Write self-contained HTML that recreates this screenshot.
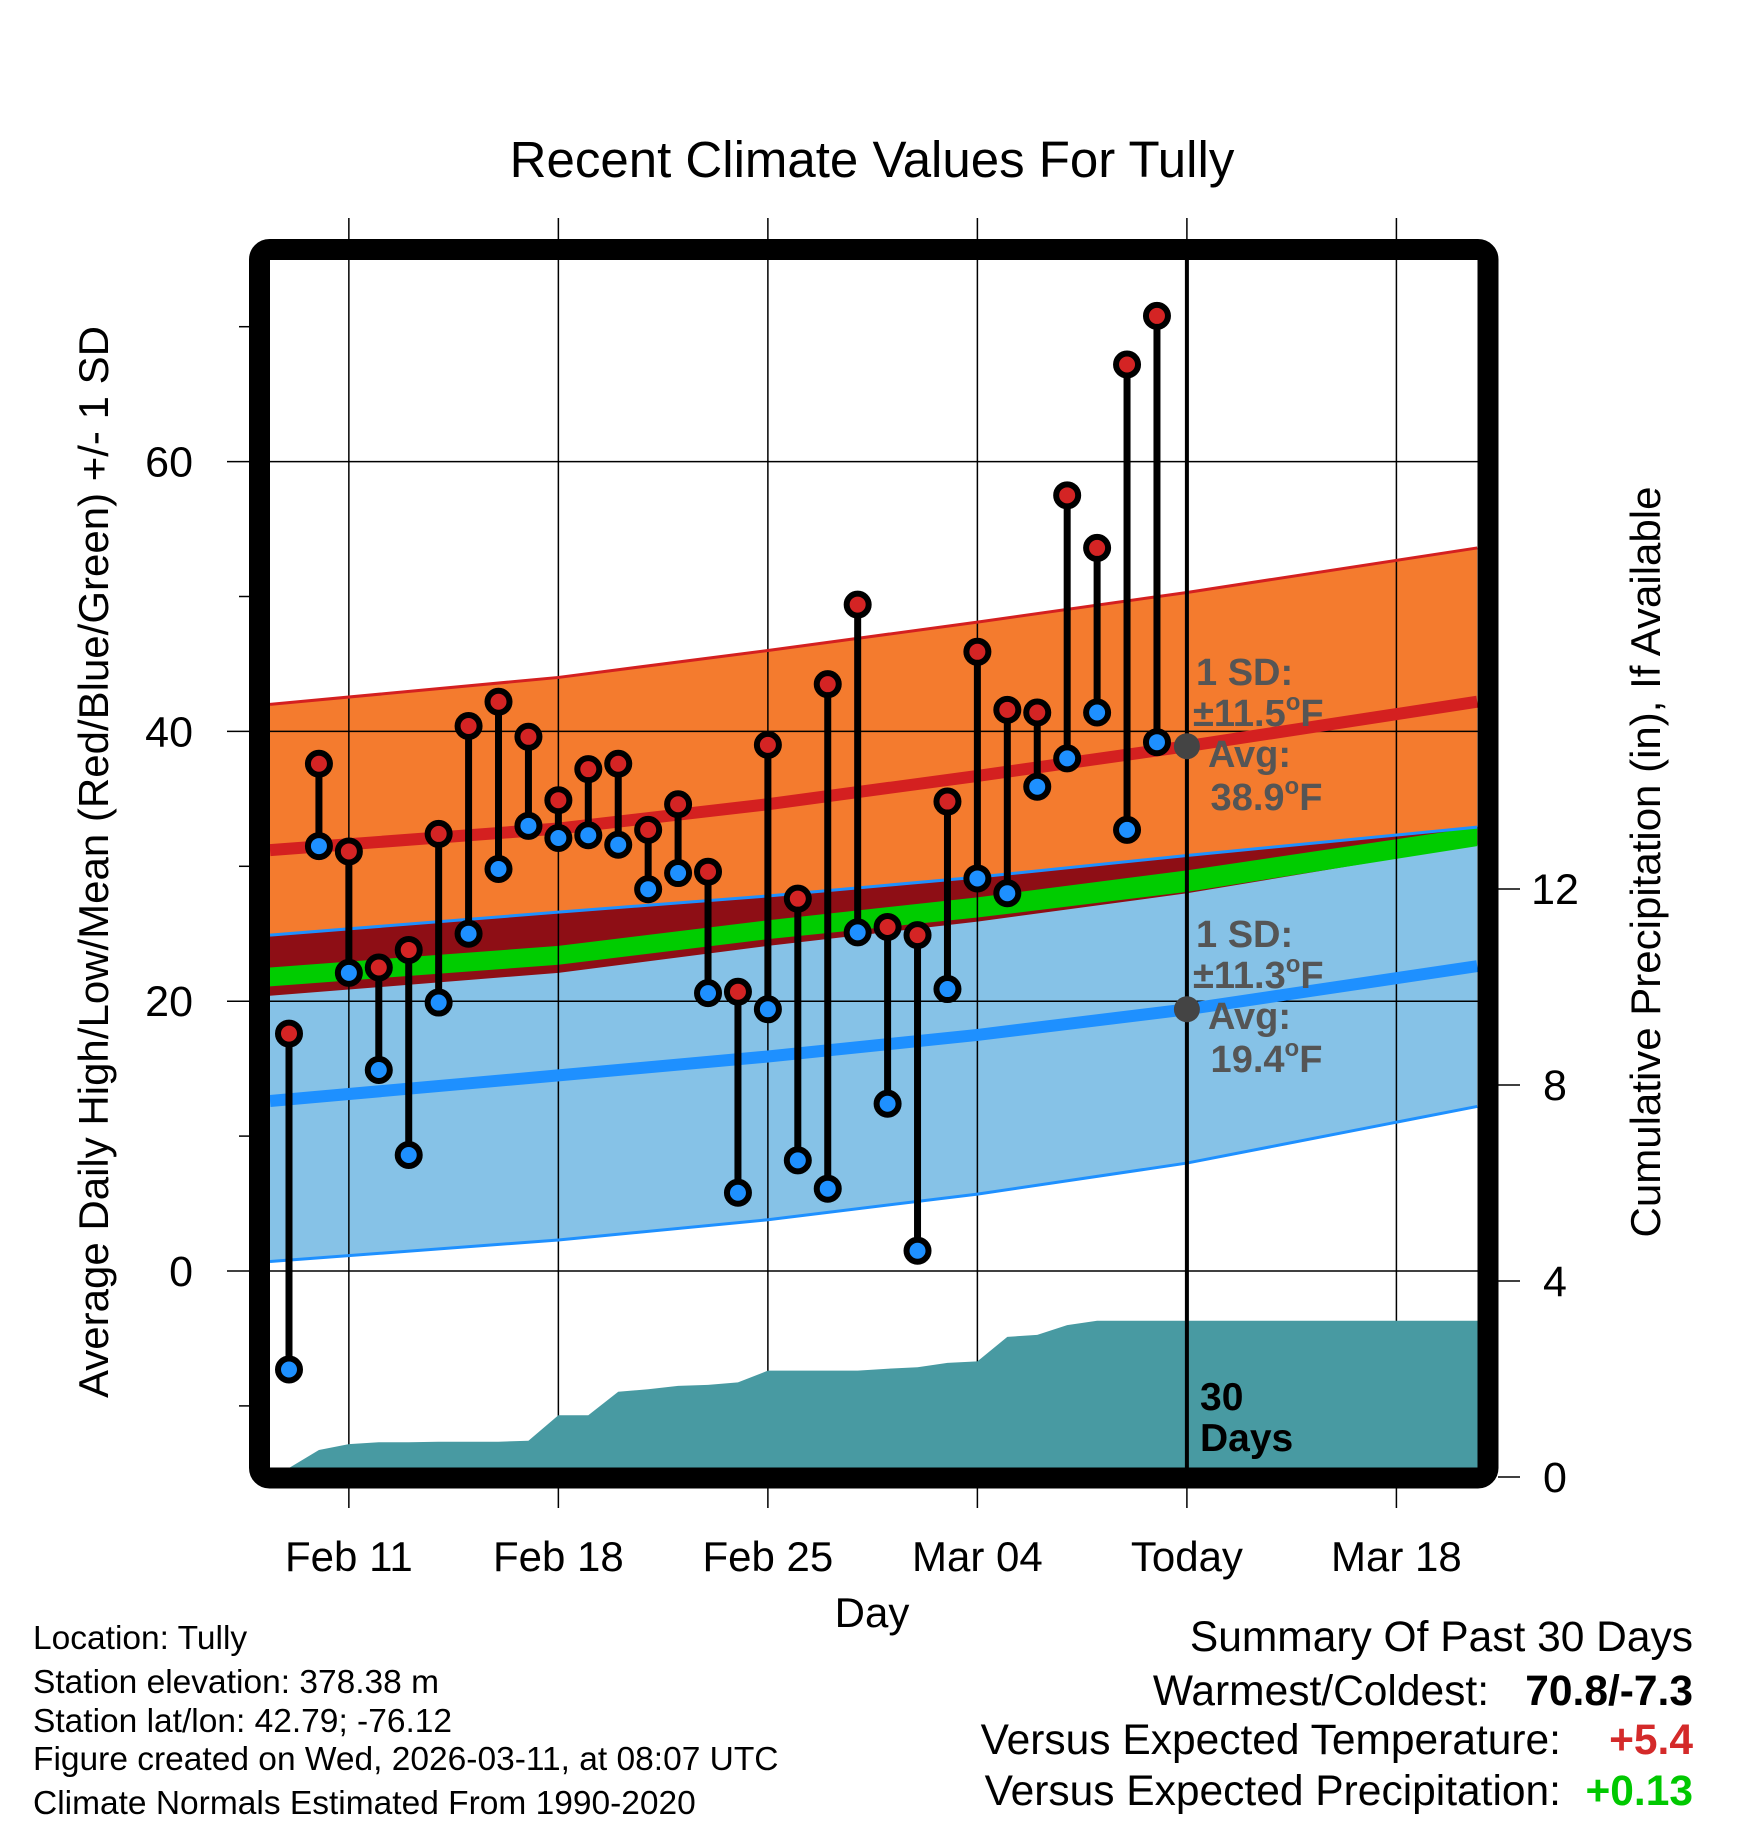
<!DOCTYPE html>
<html><head><meta charset="utf-8"><style>
html,body{margin:0;padding:0;background:#fff;}
svg{display:block;font-family:"Liberation Sans",sans-serif;}
</style></head><body>
<svg id="chart" width="1748" height="1828" viewBox="0 0 1748 1828" xmlns="http://www.w3.org/2000/svg">
<text x="872" y="177" font-size="51" text-anchor="middle">Recent Climate Values For Tully</text>
<g id="bands"></g>
<g id="grid"></g>
<g id="precip"></g>
<g id="lines"></g>
<g id="marks"></g>
<g id="annot"></g>
<rect x="259.5" y="249.5" width="1228.5" height="1228.5" rx="10" fill="none" stroke="#000" stroke-width="21"/>
<g id="axes"></g>
<text x="872" y="1627" font-size="42" text-anchor="middle">Day</text>
<text transform="translate(108,862) rotate(-90)" font-size="42" text-anchor="middle">Average Daily High/Low/Mean (Red/Blue/Green) +/- 1 SD</text>
<text transform="translate(1660,862) rotate(-90)" font-size="42" text-anchor="middle">Cumulative Precipitation (in), If Available</text>
<g font-size="33.5">
<text x="33" y="1649">Location: Tully</text>
<text x="33" y="1693">Station elevation: 378.38 m</text>
<text x="33" y="1732">Station lat/lon: 42.79; -76.12</text>
<text x="33" y="1770">Figure created on Wed, 2026-03-11, at 08:07 UTC</text>
<text x="33" y="1814">Climate Normals Estimated From 1990-2020</text>
</g>
<g font-size="42.5">
<text x="1693" y="1651" text-anchor="end">Summary Of Past 30 Days</text>
<text x="1489" y="1705" text-anchor="end">Warmest/Coldest:</text>
<text x="1693" y="1705" text-anchor="end" font-weight="bold">70.8/-7.3</text>
<text x="1561" y="1754" text-anchor="end">Versus Expected Temperature:</text>
<text x="1693" y="1754" text-anchor="end" font-weight="bold" fill="#d42a2a">+5.4</text>
<text x="1561" y="1805" text-anchor="end">Versus Expected Precipitation:</text>
<text x="1693" y="1805" text-anchor="end" font-weight="bold" fill="#00c800">+0.13</text>
</g>
</svg>
<script>
// data (day index 0 = Feb 9)
const highs=[17.6,37.6,31.1,22.5,23.8,32.4,40.4,42.2,39.6,34.9,37.2,37.6,32.7,34.6,29.6,20.7,39.0,27.6,43.5,49.4,25.5,24.9,34.8,45.9,41.6,41.4,57.5,53.6,67.2,70.8];
const lows=[-7.3,31.5,22.1,14.9,8.6,19.9,25.0,29.8,33.0,32.1,32.3,31.6,28.3,29.5,20.6,5.8,19.4,8.2,6.1,25.1,12.4,1.5,20.9,29.1,28.0,35.9,38.0,41.4,32.7,39.2];
const precip=[0.15,0.55,0.67,0.71,0.71,0.72,0.72,0.72,0.74,1.26,1.26,1.74,1.79,1.86,1.88,1.93,2.17,2.17,2.17,2.17,2.21,2.24,2.33,2.36,2.86,2.90,3.10,3.19,3.19,3.19,3.19];
const normDays=[-0.65,9,16,23,30,39.7];
const hiUpper=[42.0,44.0,46.0,48.1,50.3,53.6];
const hiAvg=[31.2,32.8,34.6,36.7,38.9,42.2];
const hiLower=[20.4,22.1,24.1,25.9,28.0,31.6];
const loUpper=[24.9,26.6,27.8,29.2,30.8,32.9];
const loAvg=[12.6,14.5,15.9,17.5,19.4,22.6];
const loLower=[0.7,2.3,3.8,5.7,8.0,12.2];
const meanUpper=[22.5,24.1,26.0,27.7,29.7,32.9];
const meanLower=[21.1,22.7,24.6,26.2,28.1,31.5];
const xTickDays=[2,9,16,23,30,37];
const xTickLabels=['Feb 11','Feb 18','Feb 25','Mar 04','Today','Mar 18'];
const yTicks=[0,20,40,60];
const yMinor=[-10,10,30,50,70];
const pTicks=[0,4,8,12];

const X0=270,X1=1478,Y0=260,Y1=1468;
const x=d=>289+d*29.93;
const y=t=>1271-t*13.49;
const yp=p=>1477-p*49;
const NS='http://www.w3.org/2000/svg';
function mk(tag,attrs,parent){const e=document.createElementNS(NS,tag);for(const k in attrs)e.setAttribute(k,attrs[k]);parent.appendChild(e);return e;}
const bands=document.getElementById('bands'),grid=document.getElementById('grid'),pg=document.getElementById('precip'),lines=document.getElementById('lines'),marks=document.getElementById('marks'),annot=document.getElementById('annot'),axes=document.getElementById('axes');
function pts(arr){return normDays.map((d,i)=>[Math.max(X0,Math.min(X1,x(d))),y(arr[i])]);}
function band(top,bot,fill,name){
  const p=pts(top).concat(pts(bot).reverse());
  const e=mk('polygon',{points:p.map(q=>q.join(',')).join(' '),fill:fill},bands);
  
  
}
band(hiUpper,hiLower,'#f47b2e','high-sd-band');
band(loUpper,loLower,'#86c2e7','low-sd-band');
band(loUpper,hiLower,'#8e0e15','overlap-band');
band(meanUpper,meanLower,'#00cc00','mean-sd-band');
function line(arr,color,w,name){
  const e=mk('polyline',{points:pts(arr).map(q=>q.join(',')).join(' '),fill:'none',stroke:color,'stroke-width':w},lines);
  
  
}
line(hiUpper,'#d42020',3,'high-upper-line');
line(loUpper,'#1e90ff',3,'low-upper-line');
line(loLower,'#1e90ff',3,'low-lower-line');
line(hiAvg,'#d42020',12,'high-avg-line');
line(loAvg,'#1e90ff',12,'low-avg-line');
// grid
xTickDays.forEach((d,i)=>{
  const e=mk('line',{x1:x(d),x2:x(d),y1:218,y2:1508,stroke:'#000','stroke-width':1.5},grid);
  
  
  const t=mk('text',{x:x(d),y:1571,'font-size':42,'text-anchor':'middle'},axes);
  t.textContent=xTickLabels[i];
  
  
});
yTicks.forEach(v=>{
  const e=mk('line',{x1:227,x2:X1,y1:y(v),y2:y(v),stroke:'#000','stroke-width':1.5},grid);
  
  
  const t=mk('text',{x:193,y:y(v)+15,'font-size':43,'text-anchor':'end'},axes);
  t.textContent=v;
  
  
});
yMinor.forEach(v=>{
  const e=mk('line',{x1:239,x2:250,y1:y(v),y2:y(v),stroke:'#000','stroke-width':1.5},axes);
  
  
});
pTicks.forEach(v=>{
  const e=mk('line',{x1:1498,x2:1520,y1:yp(v),y2:yp(v),stroke:'#000','stroke-width':1.5},axes);
  
  
  const t=mk('text',{x:1555,y:yp(v)+15,'font-size':43,'text-anchor':'middle'},axes);
  t.textContent=v;
  
  
});
// precip area
{
  const p=precip.map((v,i)=>[Math.max(X0,x(i)),Math.min(Y1,yp(v))]);
  p.push([X1,yp(precip[precip.length-1])]);
  p.push([X1,Y1]);p.push([X0,Y1]);
  const e=mk('polygon',{points:p.map(q=>q.join(',')).join(' '),fill:'#489aa2'},pg);
  
  
}
// today line
{
  const e=mk('line',{x1:x(30),x2:x(30),y1:Y0,y2:Y1,stroke:'#000','stroke-width':4},lines);
  
  
}
// daily marks
highs.forEach((h,i)=>{
  const s=mk('line',{x1:x(i),x2:x(i),y1:y(h),y2:y(lows[i]),stroke:'#000','stroke-width':7},marks);
  
  
});
highs.forEach((h,i)=>{
  const c=mk('circle',{cx:x(i),cy:y(h),r:11,fill:'#d42424',stroke:'#000','stroke-width':6},marks);
  
  
  const c2=mk('circle',{cx:x(i),cy:y(lows[i]),r:11,fill:'#1e90ff',stroke:'#000','stroke-width':6},marks);
  
  
});
// annotations
{
  const d1=mk('circle',{cx:x(30),cy:y(hiAvg[4]),r:13,fill:'#444'},annot);
  
  
  const d2=mk('circle',{cx:x(30),cy:y(loAvg[4]),r:13,fill:'#444'},annot);
  
  
  const txt=[['1 SD:',1196,685,''],['\u00b111.5',1193,726,'F'],['Avg:',1208,767,''],['\u00a038.9',1200,810,'F'],
             ['1 SD:',1196,947,''],['\u00b111.3',1193,988,'F'],['Avg:',1208,1029,''],['\u00a019.4',1200,1072,'F']];
  txt.forEach(a=>{
    const t=mk('text',{x:a[1],y:a[2],'font-size':38,'font-weight':'bold',fill:'#555'},annot);
    t.appendChild(document.createTextNode(a[0]));
    if(a[3]){
      const s=mk('tspan',{'font-size':24,dy:-16},t);
      s.textContent='o';
      const f=mk('tspan',{dy:16},t);
      f.textContent=a[3];
    }
    
    
  });
  const t1=mk('text',{x:1200,y:1410,'font-size':39,'font-weight':'bold'},annot);
  t1.textContent='30';
  
  
  const t2=mk('text',{x:1200,y:1451,'font-size':39,'font-weight':'bold'},annot);
  t2.textContent='Days';
  
  
}
</script>
</body></html>
